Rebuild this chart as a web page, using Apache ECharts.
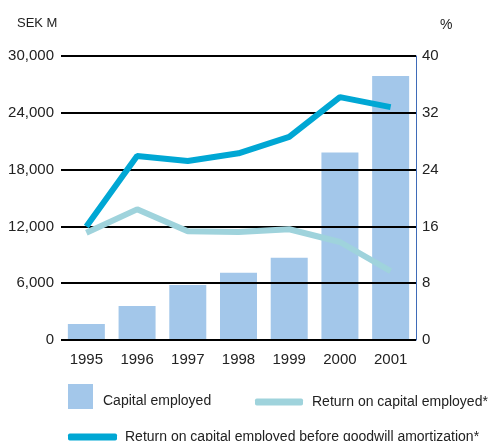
<!DOCTYPE html>
<html><head><meta charset="utf-8">
<script src="https://cdn.jsdelivr.net/npm/echarts@6/dist/echarts.min.js"></script>
<style>html,body{margin:0;padding:0;background:#fff}#c{width:488px;height:441px}</style>
</head><body><div id="c"></div>
<script>
var years = ['1995','1996','1997','1998','1999','2000','2001'];
var capitalEmployed = [1700, 3600, 5800, 7100, 8700, 19800, 27900];
var roce = [15.1, 18.4, 15.3, 15.2, 15.6, 13.8, 9.7];
var roceBeforeGoodwill = [16.0, 25.9, 25.2, 26.3, 28.6, 34.2, 32.8];
var leftTicks = {min: 0, max: 30000, interval: 6000};
var rightTicks = {min: 0, max: 40, interval: 8};

var FONT = '"Liberation Sans", Arial, sans-serif';
var TXT = '#222';
var chart = echarts.init(document.getElementById('c'));
chart.setOption({
  animation: false,
  textStyle: {fontFamily: FONT},
  grid: {left: 61, right: 72, top: 56, bottom: 101},
  legend: [
    {data: ['Capital employed'], left: 68, top: 384, itemWidth: 25, itemHeight: 34,
     icon: 'path://M0,0L25,0L25,25L0,25Z M0,34L0.01,34',
     textStyle: {fontFamily: FONT, fontSize: 14, color: TXT, padding: [0, 0, 0, 5]}, padding: 0},
    {data: ['Return on capital employed*'], left: 255, top: 395, itemWidth: 48, itemHeight: 7, icon: 'roundRect',
     textStyle: {fontFamily: FONT, fontSize: 14, color: TXT, padding: [0, 0, 0, 4]}, padding: 0},
    {data: ['Return on capital employed before goodwill amortization*'], left: 68, top: 430, itemWidth: 49, itemHeight: 7, icon: 'roundRect',
     textStyle: {fontFamily: FONT, fontSize: 14, color: TXT, padding: [0, 0, 0, 3]}, padding: 0}
  ],
  graphic: [
    {type: 'text', left: 17, top: 17, style: {text: 'SEK M', font: '13px ' + FONT, fill: TXT}},
    {type: 'text', left: 440, top: 18, style: {text: '%', font: '14px ' + FONT, fill: TXT}}
  ],
  xAxis: {
    type: 'category', data: years,
    axisLine: {show: false}, axisTick: {show: false},
    axisLabel: {color: TXT, fontSize: 15, margin: 12, fontFamily: FONT}
  },
  yAxis: [
    {type: 'value', min: leftTicks.min, max: leftTicks.max, interval: leftTicks.interval, z: 3,
     axisLine: {show: false}, axisTick: {show: false},
     axisLabel: {color: TXT, fontSize: 15, margin: 7, fontFamily: FONT,
       formatter: function (v) { return v.toLocaleString('en-US'); }},
     splitLine: {lineStyle: {color: '#000', width: 2}}},
    {type: 'value', min: rightTicks.min, max: rightTicks.max, interval: rightTicks.interval, position: 'right',
     axisLine: {show: true, lineStyle: {color: '#3f6bb8', width: 1}}, axisTick: {show: false},
     axisLabel: {color: TXT, fontSize: 15, margin: 6, fontFamily: FONT},
     splitLine: {show: false}}
  ],
  series: [
    {name: 'Capital employed', type: 'bar', data: capitalEmployed, barWidth: 37, z: 2,
     itemStyle: {color: '#a3c7ea'}},
    {name: 'Return on capital employed*', type: 'line', yAxisIndex: 1, data: roce, z: 5,
     showSymbol: false, symbol: 'none', color: '#9fd3dc', lineStyle: {width: 6, color: '#9fd3dc'}},
    {name: 'Return on capital employed before goodwill amortization*', type: 'line', yAxisIndex: 1, data: roceBeforeGoodwill, z: 6,
     showSymbol: false, symbol: 'none', color: '#00a7d4', lineStyle: {width: 6, color: '#00a7d4'}}
  ]
});
</script></body></html>
